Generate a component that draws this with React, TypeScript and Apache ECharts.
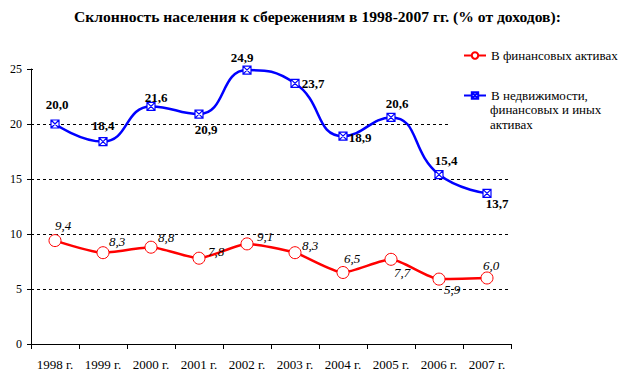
import React, { useEffect, useRef } from "react";
import * as echarts from "echarts";

const categories = ["1998 г.", "1999 г.", "2000 г.", "2001 г.", "2002 г.", "2003 г.", "2004 г.", "2005 г.", "2006 г.", "2007 г."];
const financialName = "В финансовых активах";
const totalName = "В недвижимости,";
const totalNameRest = ["финансовых и иных", "активах"];
const financial = [9.4, 8.3, 8.8, 7.8, 9.1, 8.3, 6.5, 7.7, 5.9, 6.0];
const total = [20.0, 18.4, 21.6, 20.9, 24.9, 23.7, 18.9, 20.6, 15.4, 13.7];
const yMin = 0;
const yMax = 25;
const yStep = 5;

const financialLabelOffsets = [[8, -15], [14, -11], [15, -10], [17, -7], [18, -7], [15, -7], [9, -14], [11, 13], [13, 10], [4, -13]];
const totalLabelOffsets = [[2, -20], [0, -16], [5, -9], [7, 15], [-5, -13], [18, 0], [17, 1], [6, -14], [7, -14], [10, 10]];

const FONT = "Liberation Serif";
const fmt = (p: any) => Number(p.value).toFixed(1).replace(".", ",");

export default function App() {
  const ref = useRef<HTMLDivElement>(null);
  useEffect(() => {
    if (!ref.current) return;
    const chart = echarts.init(ref.current, null, { renderer: "svg" });
    chart.setOption({
      animation: false,
      backgroundColor: "#fff",
      textStyle: { fontFamily: FONT, color: "#000" },
      title: {
        text: "Склонность населения к сбережениям в 1998-2007 гг. (% от доходов):",
        left: 74,
        top: 8,
        padding: 0,
        textStyle: { fontFamily: FONT, fontSize: 15.6, fontWeight: "bold", color: "#000" },
      },
      grid: { left: 31, right: 110, top: 69, bottom: 42, containLabel: false },
      legend: [
        {
          data: [financialName],
          left: 463,
          top: 49,
          padding: 0,
          orient: "vertical",
          itemWidth: 22,
          itemHeight: 8,
          textStyle: { fontFamily: FONT, fontSize: 13, color: "#000" },
        },
        {
          data: [totalName],
          left: 463,
          top: 89,
          padding: 0,
          orient: "vertical",
          itemWidth: 22,
          itemHeight: 8,
          textStyle: { fontFamily: FONT, fontSize: 13, color: "#000" },
        },
      ],
      xAxis: {
        type: "category",
        data: categories,
        boundaryGap: true,
        axisLine: { show: true, lineStyle: { color: "#000", width: 1 } },
        axisTick: { show: true, length: 5, lineStyle: { color: "#000" } },
        axisLabel: { fontFamily: FONT, fontSize: 13, color: "#000", margin: 14 },
        splitLine: { show: false },
      },
      yAxis: {
        type: "value",
        min: yMin,
        max: yMax,
        interval: yStep,
        axisLine: { show: true, lineStyle: { color: "#000", width: 1 } },
        axisTick: { show: true, length: 4, lineStyle: { color: "#000" } },
        axisLabel: { fontFamily: FONT, fontSize: 12, color: "#000", margin: 9 },
        splitLine: { show: true, lineStyle: { color: "#000", width: 1, type: [3, 3] } },
      },
      graphic: [
        { type: "rect", z: 1, shape: { x: 33, y: 65, width: 500, height: 8 }, style: { fill: "#fff" } },
        { type: "rect", z: 1, shape: { x: 450, y: 40, width: 171, height: 100 }, style: { fill: "#fff" } },
        {
          type: "text",
          z: 5,
          left: 490,
          top: 103,
          style: { text: totalNameRest[0], font: `13px ${FONT}`, fill: "#000" },
        },
        {
          type: "text",
          z: 5,
          left: 490,
          top: 118,
          style: { text: totalNameRest[1], font: `13px ${FONT}`, fill: "#000" },
        },
      ],
      series: [
        {
          name: financialName,
          type: "line",
          smooth: 0.2,
          z: 3,
          data: financial.map((v, i) => ({ value: v, label: { offset: financialLabelOffsets[i] } })),
          symbol: "circle",
          symbolSize: 12,
          lineStyle: { color: "#ff0000", width: 2.5 },
          itemStyle: { color: "#ffffff", borderColor: "#ff0000", borderWidth: 1 },
          label: {
            show: true,
            position: "inside",
            formatter: fmt,
            fontFamily: FONT,
            fontSize: 13,
            fontStyle: "italic",
            color: "#000",
          },
        },
        {
          name: totalName,
          type: "line",
          smooth: 0.5,
          z: 3,
          data: total.map((v, i) => ({ value: v, label: { offset: totalLabelOffsets[i] } })),
          symbol: "path://M0 0H10V10H0Z M0 0L10 10 M10 0L0 10",
          symbolSize: 8,
          lineStyle: { color: "#0000ff", width: 2.5 },
          itemStyle: { color: "#ffffff", borderColor: "#0000ff", borderWidth: 1.2 },
          label: {
            show: true,
            position: "inside",
            formatter: fmt,
            fontFamily: FONT,
            fontSize: 13,
            fontWeight: "bold",
            color: "#000",
          },
        },
      ],
    });
    return () => chart.dispose();
  }, []);
  return <div ref={ref} style={{ position: "fixed", left: 0, top: 0, width: 621, height: 386 }} />;
}
